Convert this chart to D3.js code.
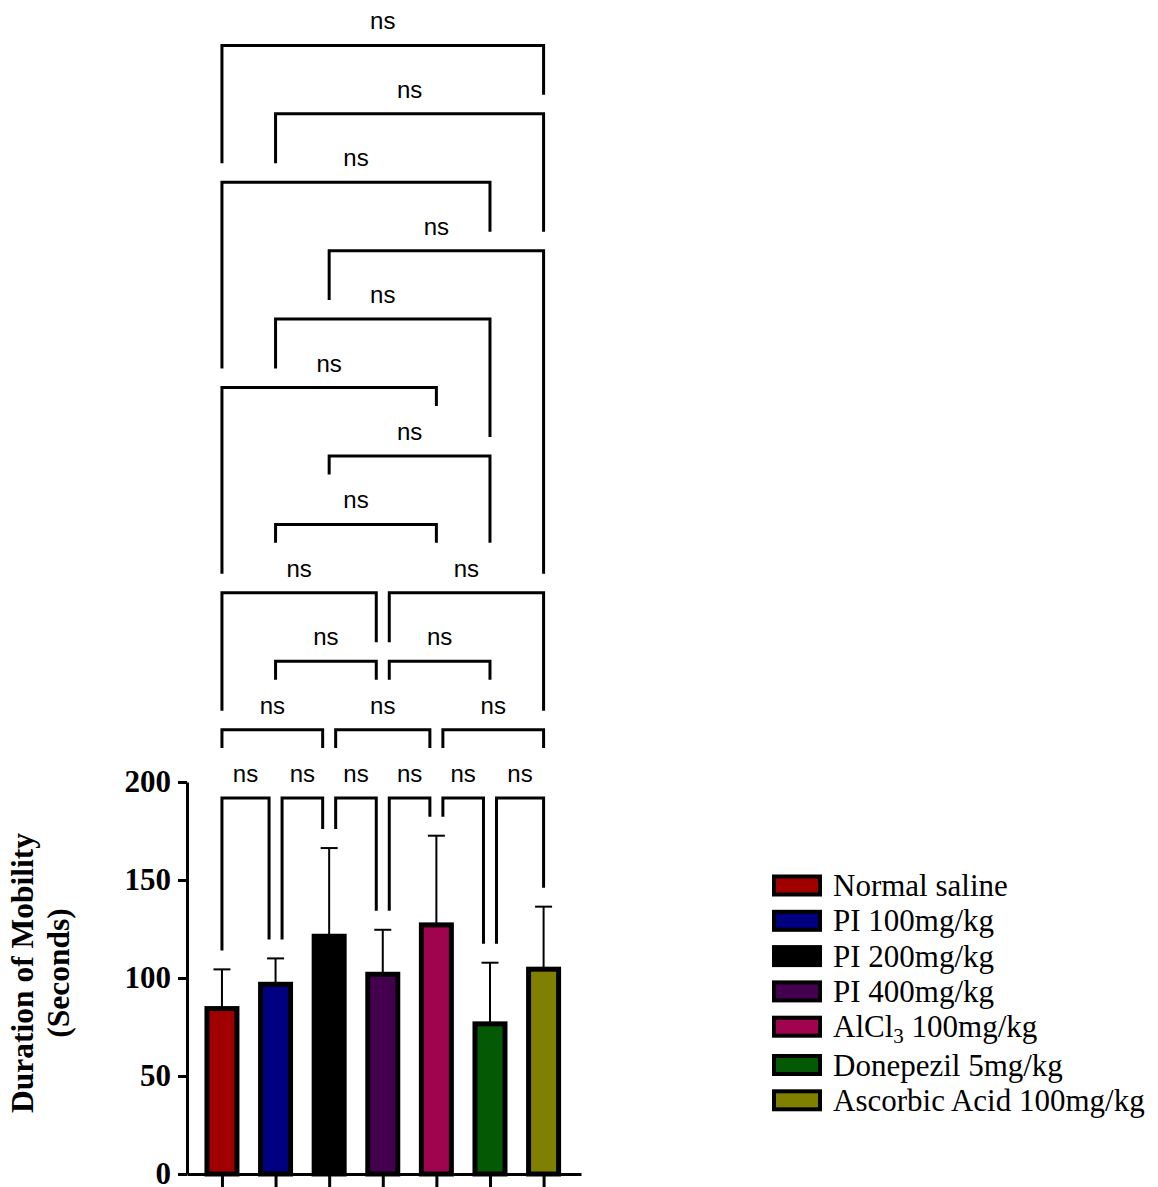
<!DOCTYPE html>
<html>
<head>
<meta charset="utf-8">
<script src="https://cdn.jsdelivr.net/npm/d3@7"></script>
<style>
  html, body { margin: 0; padding: 0; background: #fff; }
  svg { display: block; }
</style>
</head>
<body>
<svg id="chart" width="1158" height="1187"></svg>
<script>
// ---------------- DATA ----------------
const categories = ["Normal saline", "PI 100mg/kg", "PI 200mg/kg", "PI 400mg/kg",
                    "AlCl3 100mg/kg", "Donepezil 5mg/kg", "Ascorbic Acid 100mg/kg"];
const means = [84.4, 96.8, 121.3, 101.9, 127.1, 76.6, 104.5];
const sds   = [20.0, 13.2, 45.0, 22.7, 45.5, 31.2, 31.9];
const colors = ["#A00000", "#000080", "#000000", "#44004F", "#A1044F", "#045A04", "#808000"];
const yTicks = [0, 50, 100, 150, 200];
const yTitleLines = ["Duration of Mobility", "(Seconds)"];
// pairwise comparisons (group indices) and the bracket row they sit on
const comparisons = [[0,1],[1,2],[2,3],[3,4],[4,5],[5,6],
                     [0,2],[2,4],[4,6],
                     [1,3],[3,5],
                     [0,3],[3,6],
                     [1,4],[2,5],[0,4],[1,5],[2,6],[0,5],[1,6],[0,6]];
const comparisonRows = [0,0,0,0,0,0, 1,1,1, 2,2, 3,3, 4,5,6,7,8,9,10,11];
const comparisonLabels = comparisons.map(() => "ns");

// ---------------- LAYOUT ----------------
const svg = d3.select("#chart");
const serif = "'Liberation Serif', 'Times New Roman', serif";
const sans = "'Liberation Sans', Arial, sans-serif";

const plotLeft = 187, plotRight = 581;
const x = d3.scalePoint().domain(categories).range([plotLeft, plotRight]).padding(0.675).align(0.483);
const y = d3.scaleLinear().domain([0, 200]).range([1174, 782]);

const barW = 30;
const capW = 17;

// ---------------- ERROR BARS ----------------
const g = svg.append("g");
g.selectAll("line.err").data(categories).join("line")
  .attr("class", "err")
  .attr("x1", d => x(d)).attr("x2", d => x(d))
  .attr("y1", (d, i) => y(means[i])).attr("y2", (d, i) => y(means[i] + sds[i]))
  .attr("stroke", "#000").attr("stroke-width", 2);
g.selectAll("line.cap").data(categories).join("line")
  .attr("class", "cap")
  .attr("x1", d => x(d) - capW / 2).attr("x2", d => x(d) + capW / 2)
  .attr("y1", (d, i) => y(means[i] + sds[i])).attr("y2", (d, i) => y(means[i] + sds[i]))
  .attr("stroke", "#000").attr("stroke-width", 2);

// ---------------- BARS ----------------
g.selectAll("rect.bar").data(categories).join("rect")
  .attr("class", "bar")
  .attr("x", d => x(d) - barW / 2)
  .attr("width", barW)
  .attr("y", (d, i) => y(means[i]))
  .attr("height", (d, i) => y(0) - y(means[i]))
  .attr("fill", (d, i) => colors[i])
  .attr("stroke", "#000").attr("stroke-width", 5);

// ---------------- AXES ----------------
const yAxis = d3.axisLeft(y).tickValues(yTicks).tickSize(9).tickSizeOuter(0).tickFormat(d3.format("d"));
const ya = svg.append("g").attr("transform", `translate(${plotLeft},0)`).call(yAxis);
ya.select(".domain").attr("stroke", "#000").attr("stroke-width", 3);
ya.selectAll(".tick line").attr("stroke", "#000").attr("stroke-width", 3);
ya.selectAll(".tick text")
  .attr("x", -16)
  .attr("font-family", serif).attr("font-weight", "bold").attr("font-size", 31).attr("fill", "#000");

const xAxis = d3.axisBottom(x).tickSize(14).tickSizeOuter(0).tickFormat("");
const xa = svg.append("g").attr("transform", `translate(0,${y(0)})`).call(xAxis);
xa.select(".domain").attr("stroke", "#000").attr("stroke-width", 3);
xa.selectAll(".tick line").attr("stroke", "#000").attr("stroke-width", 3);

// y title
const midY = (y(0) + y(200)) / 2 - 5;
yTitleLines.forEach((t, i) => {
  const tx = 33 + i * 36;
  svg.append("text")
    .attr("transform", `translate(${tx},${midY}) rotate(-90)`)
    .attr("text-anchor", "middle")
    .attr("font-family", serif).attr("font-weight", "bold").attr("font-size", 31.5)
    .attr("fill", "#000")
    .text(t);
});

// ---------------- SIGNIFICANCE BRACKETS ----------------
const bracketBase = 191.8, bracketStep = 34.91;   // in data units
const legGap = 19, labelBlock = 31, labelHalf = 40, shareOffset = 6.5;

const brackets = comparisons.map((c, i) => ({ a: c[0], b: c[1], row: comparisonRows[i], label: comparisonLabels[i] }));
brackets.forEach(br => {
  const sharedL = brackets.some(o => o !== br && o.row === br.row && o.b === br.a);
  const sharedR = brackets.some(o => o !== br && o.row === br.row && o.a === br.b);
  br.xl = x(categories[br.a]) + (sharedL ? shareOffset : 0);
  br.xr = x(categories[br.b]) - (sharedR ? shareOffset : 0);
  br.y = y(bracketBase + br.row * bracketStep);
  br.mid = (br.xl + br.xr) / 2;
});
function legEnd(br, X, barIdx) {
  let top = y(means[barIdx] + sds[barIdx]);
  brackets.forEach(o => {
    if (o.row >= br.row) return;
    if (Math.abs(X - o.mid) < labelHalf) top = Math.min(top, o.y - labelBlock);
    else if (X >= o.xl - 1 && X <= o.xr + 1) top = Math.min(top, o.y);
  });
  return top - legGap;
}
const bg = svg.append("g");
brackets.forEach(br => {
  const yl = legEnd(br, br.xl, br.a);
  const yr = legEnd(br, br.xr, br.b);
  bg.append("path")
    .attr("d", `M${br.xl},${yl}V${br.y}H${br.xr}V${yr}`)
    .attr("fill", "none").attr("stroke", "#000").attr("stroke-width", 3)
    .attr("stroke-linejoin", "miter").attr("stroke-linecap", "butt");
  bg.append("text")
    .attr("x", br.mid).attr("y", br.y - 16)
    .attr("text-anchor", "middle")
    .attr("font-family", sans).attr("font-size", 24).attr("fill", "#000")
    .text(br.label);
});

// ---------------- LEGEND ----------------
const legX = 772, legY0 = 885.5, legStep = 35.3;
const lg = svg.append("g");
categories.forEach((c, i) => {
  const cy = legY0 + i * legStep + (i > 4 ? 3 : 0);
  lg.append("rect")
    .attr("x", legX + 2).attr("y", cy - 9)
    .attr("width", 46).attr("height", 18)
    .attr("fill", colors[i]).attr("stroke", "#000").attr("stroke-width", 4);
  const t = lg.append("text")
    .attr("x", legX + 61).attr("y", cy + 10.5)
    .attr("font-family", serif).attr("font-size", 31).attr("fill", "#000");
  const m = c.match(/^(.*?Cl)3(.*)$/);
  if (m) {
    t.append("tspan").text(m[1]);
    t.append("tspan").attr("font-size", 21).attr("dy", 6).text("3");
    t.append("tspan").attr("dy", -6).text(m[2]);
  } else {
    t.text(c);
  }
});
</script>
</body>
</html>
